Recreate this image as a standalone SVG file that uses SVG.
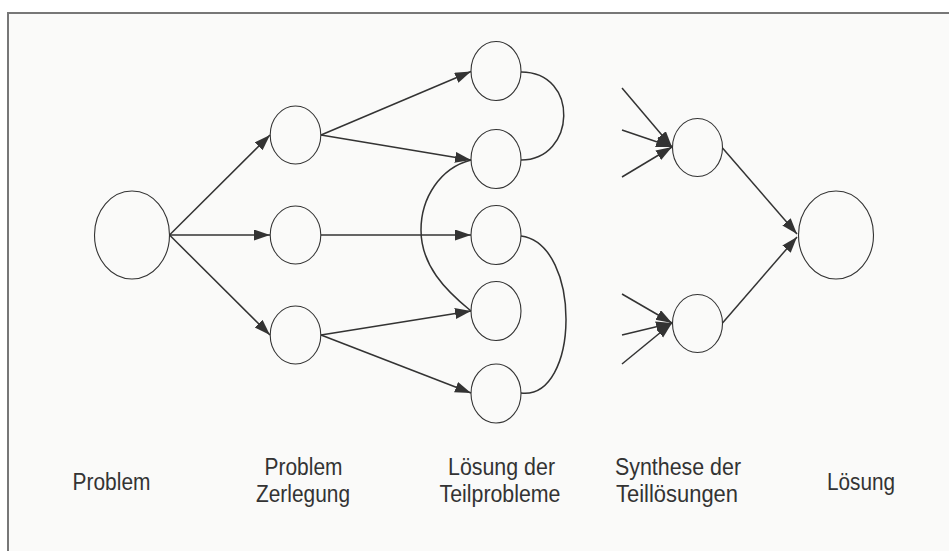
<svg xmlns="http://www.w3.org/2000/svg" width="949" height="551" viewBox="0 0 949 551">
<style>
.node{fill:none;stroke:#333;stroke-width:1.1}
.edge{fill:none;stroke:#333;stroke-width:1.5}
.lbl{font-family:"Liberation Sans",Arial,sans-serif;font-size:23px;fill:#333;text-anchor:middle}
</style>
<defs>
<marker id="ah" markerUnits="userSpaceOnUse" markerWidth="17" markerHeight="12" refX="16" refY="5.5" orient="auto">
<path d="M0,0 L16,5.5 L0,11 z" fill="#333"/>
</marker>
</defs>
<rect x="0" y="0" width="949" height="551" fill="#fff"/>
<rect x="8" y="13" width="970" height="580" fill="#fafaf9" stroke="#777" stroke-width="2"/>
<g id="n-problem"><ellipse class="node" cx="132" cy="235" rx="37.5" ry="44"/></g>
<g id="n-z1"><ellipse class="node" cx="295.5" cy="135" rx="25.3" ry="29"/></g>
<g id="n-z2"><ellipse class="node" cx="295.5" cy="235" rx="25.3" ry="29"/></g>
<g id="n-z3"><ellipse class="node" cx="295.5" cy="335" rx="25.3" ry="29"/></g>
<g id="n-t1"><ellipse class="node" cx="496" cy="71" rx="25" ry="29.5"/></g>
<g id="n-t2"><ellipse class="node" cx="496" cy="159" rx="25" ry="29.5"/></g>
<g id="n-t3"><ellipse class="node" cx="496" cy="235" rx="25" ry="29.5"/></g>
<g id="n-t4"><ellipse class="node" cx="496" cy="311" rx="25" ry="29.5"/></g>
<g id="n-t5"><ellipse class="node" cx="496" cy="393.5" rx="25" ry="29.5"/></g>
<g id="n-s1"><ellipse class="node" cx="697.5" cy="147.5" rx="25" ry="29"/></g>
<g id="n-s2"><ellipse class="node" cx="697.5" cy="323.5" rx="25" ry="29"/></g>
<g id="n-loesung"><ellipse class="node" cx="836" cy="235" rx="37.5" ry="44"/></g>
<g id="connectors">
<line class="edge" x1="169.5" y1="235" x2="270" y2="135" marker-end="url(#ah)"/>
<line class="edge" x1="169.5" y1="235" x2="270" y2="235" marker-end="url(#ah)"/>
<line class="edge" x1="169.5" y1="235" x2="270" y2="335" marker-end="url(#ah)"/>
<line class="edge" x1="321" y1="135" x2="471" y2="71.5" marker-end="url(#ah)"/>
<line class="edge" x1="321" y1="135" x2="471" y2="160" marker-end="url(#ah)"/>
<line class="edge" x1="321" y1="235" x2="471" y2="235" marker-end="url(#ah)"/>
<line class="edge" x1="321" y1="335" x2="471" y2="311" marker-end="url(#ah)"/>
<line class="edge" x1="321" y1="335" x2="471" y2="393" marker-end="url(#ah)"/>
<path class="edge" d="M521,72 C580,72 576,160 521,160"/>
<path class="edge" d="M471,160 C440,168 421,198 421,230 C421,265 445,290 471,311"/>
<path class="edge" d="M521,236 C582,244 580,400 521,393"/>
<line class="edge" x1="622" y1="88" x2="672" y2="147" marker-end="url(#ah)"/>
<line class="edge" x1="622" y1="130" x2="672" y2="147" marker-end="url(#ah)"/>
<line class="edge" x1="622" y1="177" x2="672" y2="147" marker-end="url(#ah)"/>
<line class="edge" x1="622" y1="294" x2="672" y2="323" marker-end="url(#ah)"/>
<line class="edge" x1="622" y1="335" x2="672" y2="323" marker-end="url(#ah)"/>
<line class="edge" x1="622" y1="364" x2="672" y2="323" marker-end="url(#ah)"/>
<line class="edge" x1="722.5" y1="148" x2="797" y2="234" marker-end="url(#ah)"/>
<line class="edge" x1="722.5" y1="323" x2="797" y2="237" marker-end="url(#ah)"/>
</g>
<g id="labels">
<text class="lbl" x="111.5" y="490" textLength="78" lengthAdjust="spacingAndGlyphs">Problem</text>
<text class="lbl" x="303.5" y="475" textLength="78" lengthAdjust="spacingAndGlyphs">Problem</text>
<text class="lbl" x="303" y="502" textLength="94" lengthAdjust="spacingAndGlyphs">Zerlegung</text>
<text class="lbl" x="501.5" y="475" textLength="107" lengthAdjust="spacingAndGlyphs">Lösung der</text>
<text class="lbl" x="500" y="502" textLength="121" lengthAdjust="spacingAndGlyphs">Teilprobleme</text>
<text class="lbl" x="678" y="475" textLength="126" lengthAdjust="spacingAndGlyphs">Synthese der</text>
<text class="lbl" x="677" y="502" textLength="122" lengthAdjust="spacingAndGlyphs">Teillösungen</text>
<text class="lbl" x="861" y="490" textLength="68" lengthAdjust="spacingAndGlyphs">Lösung</text>
</g>
</svg>
